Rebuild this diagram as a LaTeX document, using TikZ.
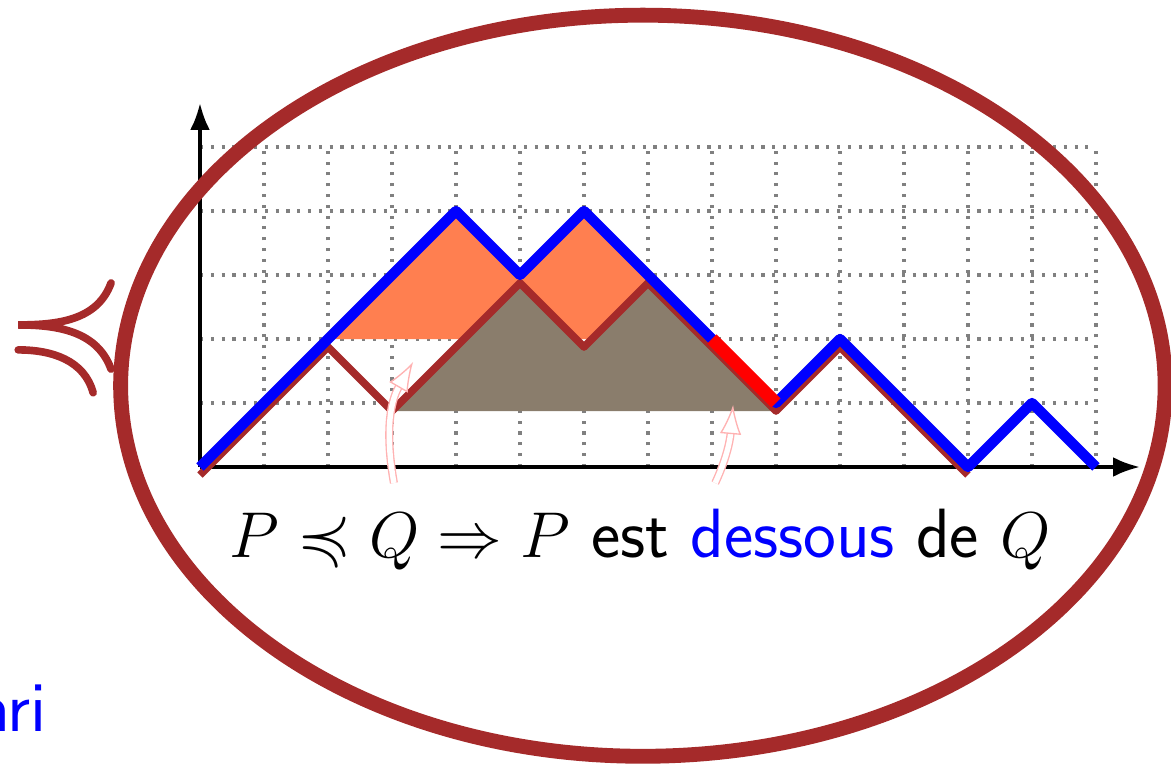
\documentclass[tikz,border=0pt]{standalone}
\usepackage{amssymb}
\usepackage{xcolor}
\usepackage{tikz}
\usetikzlibrary{arrows.meta, positioning}
\definecolor{framebrown}{RGB}{165, 42, 42}
\definecolor{coralfill}{RGB}{255, 127, 80}
\definecolor{taupefill}{RGB}{138, 125, 108}
\tikzset{
    gridline/.style={draw=gray, line width=0.7pt, dash pattern=on 0.7pt off 1.7pt},
    axis/.style={-{Latex[length=6pt, width=4.4pt]}, line width=0.9pt, draw=black},
    frame/.style={draw=framebrown, line width=3.3pt},
    tail/.style={draw=framebrown, line width=1.7pt, line cap=round}
}

\begin{document}
\begin{tikzpicture}[
    x=0.5cm, y=0.5cm,
    % -------------------------------------------------
    % Paths
    % -------------------------------------------------
    qpath/.style={
        draw=blue,
        line width=2.3pt,
        line join=round
    },
    ppath/.style={
        draw=framebrown,
        line width=1.7pt,
        line join=round,
        yshift=-0.0625cm
    },
    hilite/.style={
        draw=red,
        line width=2.9pt
    },
    % -------------------------------------------------
    % Hints and text
    % -------------------------------------------------
    hint/.style={
        draw=red!30,
        double=white,
        double distance=1.2pt,
        line width=0.3pt,
        -{Latex[open, length=6.5pt, width=4.8pt]}
    },
    caption/.style={
        font=\fontsize{15.5}{19}\selectfont,
        anchor=base,
        inner sep=0pt
    },
    corner/.style={
        font=\fontsize{16}{19}\selectfont\sffamily,
        text=blue,
        anchor=base east,
        inner sep=0pt
    }
]

\useasboundingbox (-3.125,-4.672) rectangle (15.172,7.297);

% =====================================================
% Grid and axes
% =====================================================

\draw[gridline, step=0.5cm] (0,0) grid (14,5);

\fill[coralfill] (2,2) -- (4,4) -- (5,3) -- (6,4) -- (8,2) -- cycle;
\fill[taupefill, yshift=-0.0625cm]
    (3,1) -- (5,3) -- (6,2) -- (7,3) -- (9,1) -- cycle;

\draw[axis] (0,0) -- (14.69,0);
\draw[axis] (0,0) -- (0,5.69);

% =====================================================
% Dyck paths P and Q
% =====================================================

\draw[ppath]
    (0,0) -- (2,2) -- (3,1) -- (5,3) -- (6,2) -- (7,3)
    -- (9,1) -- (10,2) -- (12,0);

\draw[qpath]
    (0,0) -- (4,4) -- (5,3) -- (6,4) -- (9,1) -- (10,2)
    -- (12,0) -- (13,1) -- (14,0);

\draw[hilite] (8,2) -- (9,1);

% =====================================================
% Hints
% =====================================================

\coordinate (hintAfrom) at (3.03,-0.25);
\coordinate (hintAto) at (3.33,1.64);
\coordinate (hintBfrom) at (8.05,-0.25);
\coordinate (hintBto) at (8.33,0.97);

\draw[hint] (hintAfrom) to[out=100, in=-120] (hintAto);
\draw[hint] (hintBfrom) to[out=65, in=-95] (hintBto);

% =====================================================
% Statement
% =====================================================

\node[caption] (claim) at (6.875,-1.41)
    {$P \preccurlyeq Q \Rightarrow P$ \textsf{est} \textsf{\color{blue}dessous} \textsf{de} $Q$};

\node[corner] (cut) at (-2.38,-4.14) {ari};

% =====================================================
% Bubble
% =====================================================

\draw[frame] (6.92,1.27) ellipse [x radius=8.16, y radius=5.79];

\draw[tail] (-1.39,2.875) to[out=-110, in=0] (-2.84,2.22)
    to[out=0, in=110] (-1.39,1.53);
\draw[tail] (-2.84,1.83) to[out=0, in=105] (-1.67,1.16);

\end{tikzpicture}
\end{document}
